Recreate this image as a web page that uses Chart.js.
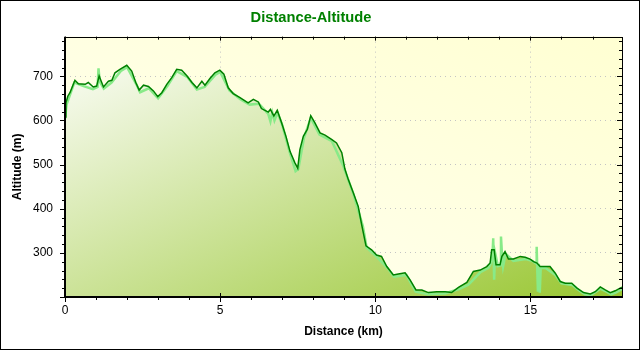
<!DOCTYPE html>
<html>
<head>
<meta charset="utf-8">
<script src="https://cdn.jsdelivr.net/npm/chart.js@4.4.0/dist/chart.umd.min.js"></script>
<style>
  html, body { margin: 0; padding: 0; background: #fff; }
</style>
</head>
<body>
<canvas id="profile" width="640" height="350"></canvas>
<script>
// smoothed profile: distance along the track (km) and altitude (m)
const distKm = [0.00, 0.03, 0.09, 0.16, 0.32, 0.43, 0.65, 0.75, 0.91, 1.02, 1.10, 1.24, 1.40, 1.51, 1.61, 1.77, 1.99,
  2.15, 2.28, 2.39, 2.53, 2.69, 2.85, 2.99, 3.12, 3.28, 3.44, 3.60, 3.76, 3.92, 4.09, 4.25, 4.41, 4.51, 4.67, 4.83, 4.99,
  5.12, 5.26, 5.42, 5.64, 5.90, 6.07, 6.23, 6.33, 6.55, 6.62, 6.73, 6.84, 6.98, 7.12, 7.25, 7.41, 7.50, 7.57, 7.68, 7.81,
  7.92, 8.05, 8.22, 8.38, 8.59, 8.75, 8.92, 9.02, 9.13, 9.29, 9.45, 9.56, 9.70, 9.88, 10.04, 10.20, 10.37, 10.58, 10.74,
  10.96, 11.12, 11.31, 11.50, 11.71, 11.98, 12.25, 12.46, 12.68, 12.95, 13.16, 13.38, 13.59, 13.70, 13.75, 13.83, 13.89,
  14.02, 14.08, 14.18, 14.29, 14.45, 14.67, 14.83, 14.99, 15.10, 15.21, 15.31, 15.47, 15.63, 15.80, 15.96, 16.12, 16.33,
  16.50, 16.71, 16.93, 17.09, 17.25, 17.41, 17.57, 17.73, 17.89, 17.95];
const altM = [608, 640, 655, 663, 691, 683, 682, 686, 676, 678, 701, 676, 689, 691, 708, 716, 725,
  712, 686, 669, 680, 677, 667, 654, 663, 682, 697, 716, 714, 702, 686, 674, 689, 680, 695, 708, 714,
  705, 674, 661, 652, 640, 648, 642, 627, 619, 625, 610, 623, 595, 564, 530, 504, 492, 534, 564, 580,
  611, 595, 572, 567, 557, 549, 527, 490, 466, 436, 405, 364, 316, 307, 295, 292, 269, 250, 252,
  255, 239, 216, 216, 210, 212, 212, 210, 222, 233, 258, 261, 269, 277, 307, 307, 273,
  273, 292, 303, 286, 286, 292, 290, 286, 280, 277, 269, 269, 269, 254, 235, 231, 231,
  220, 210, 207, 212, 223, 216, 210, 214, 220, 222];

// raw GPS altitude, light green under the smoothed line (with its spikes)
const rawKm = [0.00, 0.05, 0.12, 0.30, 0.60, 0.90, 1.05, 1.08, 1.12, 1.25, 1.50, 1.80, 2.00, 2.30, 2.42, 2.70, 3.00, 3.30,
  3.60, 3.95, 4.25, 4.50, 4.85, 5.00, 5.30, 5.65, 5.95, 6.25, 6.55, 6.62, 6.68, 6.75, 6.85, 7.00, 7.25, 7.43, 7.52,
  7.70, 7.92, 8.20, 8.60, 8.95, 9.30, 9.60, 9.72, 10.05, 10.40, 10.60, 11.00, 11.30, 11.70, 12.25, 12.70, 13.00,
  13.40, 13.65, 13.72, 13.78, 13.80, 13.83, 13.86, 13.95, 14.03, 14.05, 14.08, 14.12, 14.20, 14.45, 14.85, 15.05,
  15.18, 15.20, 15.24, 15.27, 15.30, 15.33, 15.50, 15.80, 16.00, 16.35, 16.55, 16.75, 16.95, 17.25, 17.45, 17.60,
  17.75, 17.95];
const rawAltM = [604, 636, 650, 686, 678, 671, 676, 718, 688, 672, 686, 712, 721, 682, 664, 673, 650, 678,
  712, 698, 670, 676, 704, 710, 668, 648, 636, 638, 615, 598, 618, 600, 618, 590, 526, 485, 490,
  560, 606, 568, 553, 500, 432, 360, 312, 291, 265, 246, 250, 212, 206, 208, 218, 228,
  257, 266, 275, 300, 333, 239, 300, 270, 272, 337, 300, 270, 298, 282, 286, 282,
  276, 314, 212, 275, 210, 266, 265, 250, 231, 227, 216, 206, 204, 219, 212, 206,
  210, 218];

const yTickLabels = [300, 400, 500, 600, 700];
const xTickLabels = [0, 5, 10, 15];

const fontFamily = '"Liberation Sans", Arial, sans-serif';

// diagonal gradient like GDI's forward diagonal: corners bottom-left / top-right share the middle colour
function diagGradient(c, area, from, to, reverse) {
  const w = area.right - area.left;
  const h = area.bottom - area.top;
  const f = 2 * w * h / (w * w + h * h);
  let g;
  if (!reverse) {
    g = c.createLinearGradient(area.left, area.top, area.left + h * f, area.top + w * f);
  } else {
    // bottom-left -> top-right
    g = c.createLinearGradient(area.left, area.bottom, area.left + h * f, area.bottom - w * f);
  }
  g.addColorStop(0, from);
  g.addColorStop(1, to);
  return g;
}

const plotBackground = {
  id: 'plotBackground',
  beforeDraw(chart) {
    const { ctx, chartArea } = chart;
    ctx.save();
    ctx.fillStyle = diagGradient(ctx, chartArea, '#fffff2', '#ffffd2', true);
    ctx.fillRect(chartArea.left, chartArea.top, chartArea.right - chartArea.left, chartArea.bottom - chartArea.top);
    ctx.restore();
  }
};

const plotFrame = {
  id: 'plotFrame',
  afterDraw(chart) {
    const { ctx, chartArea: a, scales } = chart;
    const x = scales.x, y = scales.y;
    ctx.save();
    ctx.strokeStyle = '#000';
    ctx.lineWidth = 1;
    ctx.beginPath();
    // y ticks every 20 m, left outward and right inward
    for (let v = 200; v <= 780; v += 20) {
      const py = Math.round(y.getPixelForValue(v)) + 0.5;
      const major = v % 100 === 0;
      ctx.moveTo(a.left - (major ? 5 : 3), py);
      ctx.lineTo(a.left + 1, py);
      ctx.moveTo(a.right - (major ? 5 : 3), py);
      ctx.lineTo(a.right, py);
    }
    // x ticks every km, bottom outward and top inward
    for (let v = 0; v <= 17; v += 1) {
      const px = Math.round(x.getPixelForValue(v)) + 0.5;
      const major = v % 5 === 0;
      ctx.moveTo(px, a.bottom - (major ? 4 : 0));
      ctx.lineTo(px, a.bottom + (major ? 5 : 3));
      ctx.moveTo(px, a.top);
      ctx.lineTo(px, a.top + (major ? 4 : 3));
    }
    ctx.stroke();
    // plot box
    ctx.lineWidth = 2;
    ctx.beginPath();
    ctx.moveTo(a.left, a.top);
    ctx.lineTo(a.left, a.bottom);
    ctx.lineTo(a.right, a.bottom);
    ctx.stroke();
    ctx.lineWidth = 1;
    ctx.strokeRect(Math.round(a.left) + 0.5, Math.round(a.top) + 0.5, Math.round(a.right - a.left), Math.round(a.bottom - a.top));
    // outer frame
    ctx.strokeRect(0.5, 0.5, chart.width - 1, chart.height - 1);
    ctx.restore();
  }
};

new Chart(document.getElementById('profile'), {
  type: 'line',
  data: {
    datasets: [
      {
        label: 'Altitude',
        data: distKm.map((d, i) => ({ x: d, y: altM[i] })),
        borderColor: '#008000',
        borderWidth: 1.5,
        pointRadius: 0,
        tension: 0,
        fill: 'start',
        backgroundColor: (ctx) => {
          const area = ctx.chart.chartArea;
          if (!area) return 'rgba(0,0,0,0)';
          return diagGradient(ctx.chart.ctx, area, '#ffffff', '#98c630', false);
        },
        order: 0
      },
      {
        label: 'Raw',
        data: rawKm.map((d, i) => ({ x: d, y: rawAltM[i] })),
        borderColor: '#88ea88',
        borderWidth: 2.5,
        pointRadius: 0,
        tension: 0,
        fill: false,
        order: 1
      }
    ]
  },
  plugins: [plotBackground, plotFrame],
  options: {
    responsive: false,
    animation: false,
    layout: { padding: { left: 0, right: 18, top: 0, bottom: 0 } },
    plugins: {
      legend: { display: false },
      tooltip: { enabled: false },
      filler: { drawTime: 'beforeDatasetsDraw' },
      title: {
        display: true,
        text: 'Distance-Altitude',
        color: '#008000',
        font: { family: fontFamily, size: 14.7, weight: 'bold' },
        padding: { top: 9, bottom: 10 }
      }
    },
    scales: {
      x: {
        type: 'linear',
        min: 0,
        max: 17.95,
        afterBuildTicks: (scale) => { scale.ticks = xTickLabels.map(v => ({ value: v })); },
        afterFit: (scale) => { scale.height = 53; },
        ticks: {
          color: '#000',
          padding: 6,
          maxRotation: 0,
          font: { family: fontFamily, size: 12 },
          callback: (v) => String(v)
        },
        grid: {
          drawTicks: false,
          color: (c) => (c.tick && c.tick.value > 0 ? '#c4c4c4' : 'rgba(0,0,0,0)'),
          lineWidth: 1
        },
        border: { display: false, dash: [1, 4] },
        title: {
          display: true,
          text: 'Distance (km)',
          color: '#000',
          font: { family: fontFamily, size: 12, weight: 'bold' },
          padding: { top: 0, bottom: 11 }
        }
      },
      y: {
        min: 200,
        max: 790,
        afterBuildTicks: (scale) => { scale.ticks = yTickLabels.map(v => ({ value: v })); },
        afterFit: (scale) => { scale.width = 65; },
        ticks: {
          color: '#000',
          padding: 12,
          font: { family: fontFamily, size: 12 },
          callback: (v) => String(v)
        },
        grid: {
          drawTicks: false,
          color: '#c4c4c4',
          lineWidth: 1
        },
        border: { display: false, dash: [1, 4] },
        title: {
          display: true,
          text: 'Altitude (m)',
          color: '#000',
          font: { family: fontFamily, size: 12, weight: 'bold' },
          padding: { top: 10, bottom: 0 }
        }
      }
    }
  }
});
</script>
</body>
</html>
